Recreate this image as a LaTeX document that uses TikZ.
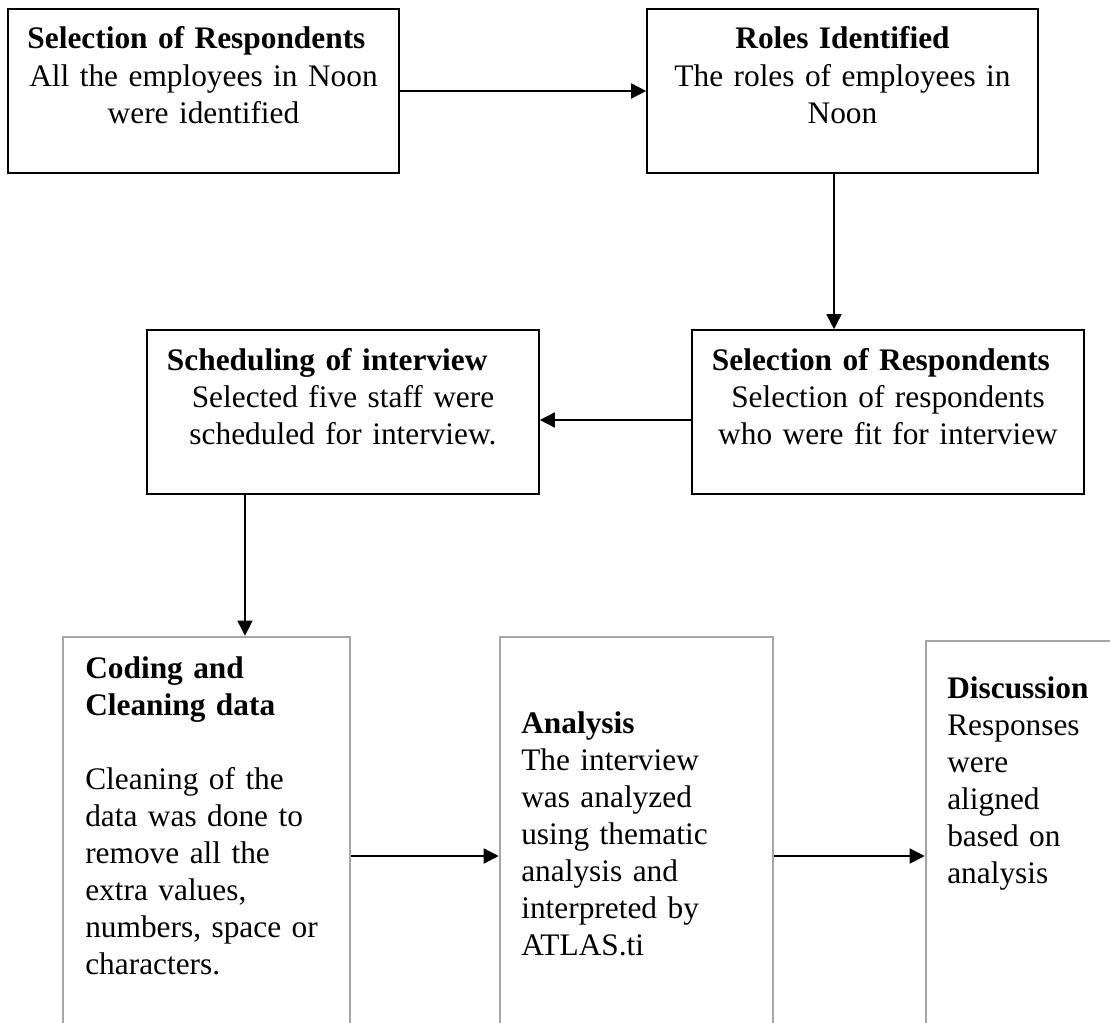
\documentclass[tikz,border=0pt]{standalone}
\usepackage{fontspec}
\setmainfont{Liberation Serif}
\usepackage{tikz}
\usetikzlibrary{arrows.meta,positioning,calc}
\usepackage{xcolor}
\definecolor{boxgray}{RGB}{166,166,166}
\hyphenpenalty=10000
\tikzset{
    stepbox/.style={rectangle, draw=black, line width=1.1pt, inner sep=0pt, minimum width=9.775cm, minimum height=4.1cm},
    greybox/.style={rectangle, draw=boxgray, line width=1.8pt, inner sep=0pt, minimum height=10.95cm},
    steptext/.style={inner sep=0pt, anchor=base, align=center, text width=8.8cm},
    sidetext/.style={inner sep=0pt, anchor=base west, align=left, text width=6.2cm},
    arr/.style={line width=1.1pt, -{Triangle[length=0.375cm, width=0.375cm]}},
    every node/.style={font=\fontsize{22.3pt}{26.32pt}\selectfont},
}
\newcommand{\lefttitle}[1]{\makebox[\linewidth][l]{\textbf{#1}}}

\begin{document}
\begin{tikzpicture}[x=0.025cm, y=-0.025cm]
    \useasboundingbox (0,0) rectangle (1110,1023);
    \clip (0,0) rectangle (1110,1023);

    % Top row
    \node[stepbox] (select) at (203.5,91) {};
    \node[steptext] (selectT) at (203.5,49) {\lefttitle{Selection of Respondents}\\ All the employees in Noon\\ were identified};
    \node[stepbox] (roles) at (842.5,91) {};
    \node[steptext] (rolesT) at (842.5,49) {\textbf{Roles Identified}\\ The roles of employees in\\ Noon};

    % Middle row
    \node[stepbox, minimum width=9.8cm] (respond) at (888,412) {};
    \node[steptext] (respondT) at (888,370) {\lefttitle{Selection of Respondents}\\ Selection of respondents\\ who were fit for interview};
    \node[stepbox, minimum width=9.8cm] (sched) at (343,412) {};
    \node[steptext] (schedT) at (343,370) {\lefttitle{Scheduling of interview}\\ Selected five staff were\\ scheduled for interview.};

    % Bottom row
    \node[greybox, minimum width=7.175cm] (coding) at (206.5,856) {};
    \node[sidetext] (codingT) at (85,678) {\textbf{Coding and}\\ \textbf{Cleaning data}\\[26.32pt] Cleaning of the\\ data was done to\\ remove all the\\ extra values,\\ numbers, space or\\ characters.};
    \node[greybox, minimum width=6.825cm] (analysis) at (636.5,856) {};
    \node[sidetext] (analysisT) at (521,733) {\textbf{Analysis}\\ The interview\\ was analyzed\\ using thematic\\ analysis and\\ interpreted by\\ ATLAS.ti};
    \node[greybox, minimum width=5.1cm, minimum height=10.75cm] (discuss) at (1028,856) {};
    \node[sidetext, text width=4cm] (discussT) at (947,698) {\textbf{Discussion}\\ Responses\\ were\\ aligned\\ based on\\ analysis};

    \draw[arr] (select) -- (roles);
    \draw[arr] ([xshift=-0.2125cm]roles.south) -- ([xshift=-0.2125cm]roles.south |- respond.north);
    \draw[arr] ([yshift=-0.2cm]respond.west) -- ([yshift=-0.2cm]respond.west -| sched.east);
    \draw[arr] ([xshift=-2.45cm]sched.south) -- ([xshift=-2.45cm]sched.south |- coding.north);
    \draw[arr] (coding) -- (analysis);
    \draw[arr] (analysis) -- (discuss);
\end{tikzpicture}
\end{document}
